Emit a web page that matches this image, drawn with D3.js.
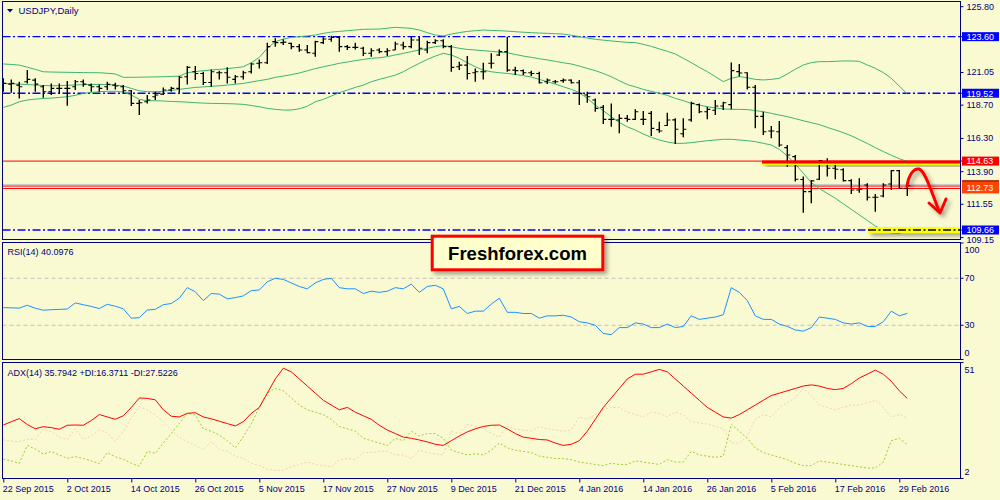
<!DOCTYPE html>
<html><head><meta charset="utf-8">
<script src="https://cdn.jsdelivr.net/npm/d3@7"></script>
<style>
html,body{margin:0;padding:0;background:#fafad2;}
svg{display:block;}
text{font-family:"Liberation Sans",Arial,sans-serif;}
</style></head><body>
<svg id="c" width="1000" height="500"></svg>
<script>
// ---------- DATA ----------
const startDate = "2015-09-22";
const holidays = ["2015-12-25", "2016-01-01"];
const barCount = 114;

const open = [
119.99,120.18,120.11,120.35,120.47,119.99,119.63,119.87,119.87,119.99,
120.35,120.11,119.99,119.99,120.11,119.99,119.70,118.79,118.91,119.27,
119.46,119.75,119.87,120.71,121.07,120.95,120.30,121.00,121.00,120.52,
120.71,121.07,121.68,121.72,123.24,123.17,123.12,122.88,122.64,122.40,
123.17,123.41,123.55,122.88,122.83,122.76,122.40,122.64,122.52,122.64,
123.00,122.88,123.36,122.64,123.17,123.31,122.88,121.43,121.55,121.00,
121.07,121.68,122.28,122.52,121.19,121.15,121.00,120.95,120.35,120.35,
120.43,120.47,120.28,119.39,119.03,118.50,117.64,117.59,117.71,117.64,
117.64,118.07,116.90,117.20,117.60,116.60,117.60,118.70,118.19,118.30,
118.60,118.70,121.08,121.00,119.95,117.85,116.80,116.75,115.60,114.95,
113.30,112.43,113.32,114.60,114.11,114.00,113.22,112.55,112.91,112.02,
112.11,112.98,113.94,112.67];
const high = [
120.60,120.52,120.35,121.19,120.60,120.11,120.23,120.23,120.40,120.47,
120.52,120.23,120.16,120.35,120.28,120.11,119.75,119.03,119.39,119.63,
119.94,119.99,120.76,121.48,121.48,121.07,121.24,121.15,121.39,120.83,
121.15,121.72,121.96,123.17,123.48,123.41,123.17,123.07,123.00,123.31,
123.55,123.67,123.65,123.00,123.17,122.88,122.76,122.76,122.76,123.24,
123.24,123.60,123.60,123.31,123.41,123.41,123.00,121.80,122.20,121.31,
121.72,122.40,122.68,123.60,121.43,121.24,121.15,121.07,120.59,120.47,
120.59,120.52,120.47,119.63,119.15,118.67,118.79,118.00,117.95,118.36,
118.24,118.24,117.47,118.12,117.71,117.71,118.91,118.79,118.55,119.03,
118.91,121.73,121.63,121.01,120.12,118.19,117.16,117.52,115.79,115.07,
113.51,113.27,114.71,114.83,114.59,114.11,113.32,113.39,113.03,112.26,
113.03,113.99,113.99,113.03];
const low = [
119.63,119.56,119.15,120.23,119.63,119.20,119.39,119.51,118.62,119.75,
119.99,119.63,119.63,119.75,119.80,119.51,118.60,117.95,118.79,119.03,
119.39,119.63,119.56,120.16,120.47,120.11,119.99,120.52,120.23,120.23,
120.52,120.95,121.31,121.63,122.88,123.00,122.69,122.52,122.40,122.16,
123.07,123.24,122.52,122.64,122.68,122.20,122.16,122.40,122.20,122.64,
122.68,122.76,122.28,122.40,123.07,122.76,121.07,121.19,120.52,120.35,
120.52,121.31,122.20,121.07,120.83,120.83,120.76,120.23,120.18,120.23,
120.28,120.23,118.67,118.84,118.19,117.30,117.11,116.63,117.47,117.59,
117.23,116.44,116.68,117.16,115.86,116.34,117.47,118.07,117.64,117.95,
118.31,118.36,120.72,119.80,116.99,116.51,116.27,115.67,114.23,113.15,
110.91,111.59,113.27,113.51,113.32,113.15,112.26,112.35,111.78,110.98,
112.02,112.55,112.67,112.11];
const close = [
120.23,120.23,119.99,120.52,120.18,119.63,119.87,119.87,119.87,120.35,
120.18,119.99,119.87,120.16,120.04,119.70,118.79,118.84,119.03,119.39,
119.75,119.87,120.67,121.39,120.95,120.30,121.07,121.00,120.67,120.71,
121.00,121.63,121.72,122.88,123.17,123.21,122.88,122.64,122.45,123.24,
123.43,123.55,122.88,122.83,122.83,122.40,122.59,122.52,122.59,123.07,
122.88,123.36,122.76,123.17,123.31,122.88,121.39,121.55,120.95,121.07,
121.07,121.68,122.52,121.19,121.15,121.00,120.95,120.28,120.47,120.35,
120.47,120.28,119.51,119.27,118.43,117.64,117.64,117.71,117.64,118.19,
117.64,116.99,116.80,117.59,116.92,116.92,118.79,118.19,118.36,118.60,
118.84,121.15,120.98,119.95,117.85,116.75,116.80,115.79,115.07,113.32,
112.43,113.20,114.66,114.11,114.04,113.22,112.55,112.60,112.02,112.02,
112.91,113.94,112.67,112.85];

const bbUpper = [
121.63,121.60,121.55,121.40,121.24,121.07,121.05,121.04,121.03,121.02,
121.01,121.00,121.00,120.96,120.91,120.67,120.67,120.68,120.69,120.70,
120.71,120.73,120.76,121.00,121.08,121.15,121.20,121.24,121.30,121.36,
121.43,121.72,122.11,122.76,123.24,123.43,123.55,123.60,123.65,123.72,
123.84,123.93,123.98,124.03,124.08,124.13,124.14,124.15,124.21,124.27,
124.24,124.20,124.08,123.89,123.72,123.65,123.79,123.89,123.98,124.03,
124.08,124.05,124.03,124.00,123.96,123.92,123.89,123.86,123.84,123.81,
123.79,123.70,123.60,123.50,123.41,123.35,123.29,123.24,123.19,123.17,
123.05,122.90,122.72,122.55,122.35,122.04,121.73,121.39,121.08,120.72,
120.36,120.60,120.72,120.64,120.52,120.48,120.52,120.60,120.91,121.25,
121.56,121.73,121.80,121.80,121.82,121.85,121.85,121.82,121.56,121.32,
121.01,120.60,120.04,119.47];
const bbMiddle = [
120.23,120.20,120.18,120.15,120.11,120.08,120.06,120.07,120.09,120.12,
120.14,120.15,120.16,120.14,120.11,120.04,119.87,119.70,119.63,119.63,
119.66,119.73,119.80,119.87,119.94,119.98,120.02,120.06,120.11,120.17,
120.23,120.33,120.43,120.52,120.67,120.76,120.86,120.98,121.14,121.30,
121.43,121.55,121.68,121.77,121.87,121.96,122.04,122.08,122.16,122.28,
122.40,122.52,122.64,122.76,122.88,122.95,122.88,122.76,122.68,122.64,
122.59,122.54,122.49,122.44,122.32,122.20,122.11,122.01,121.92,121.82,
121.72,121.63,121.48,121.31,121.15,120.95,120.71,120.42,120.15,119.98,
119.80,119.66,119.52,119.37,119.15,118.99,118.79,118.67,118.55,118.46,
118.39,118.36,118.36,118.34,118.27,118.19,118.07,117.95,117.83,117.69,
117.54,117.40,117.26,117.06,116.87,116.68,116.45,116.18,115.90,115.60,
115.32,115.05,114.80,114.60];
const bbLower = [
118.50,118.67,118.91,119.03,119.10,119.15,119.17,119.22,119.27,119.37,
119.51,119.58,119.63,119.66,119.66,119.61,119.39,119.08,118.98,118.98,
118.96,118.93,118.91,118.88,118.84,118.81,118.79,118.78,118.77,118.75,
118.72,118.64,118.55,118.43,118.36,118.31,118.31,118.40,118.58,118.91,
119.08,119.32,119.56,119.75,119.94,120.11,120.35,120.52,120.67,120.83,
121.07,121.39,121.68,121.96,122.20,122.40,122.28,122.04,121.72,121.43,
121.19,121.07,121.00,120.95,120.88,120.79,120.69,120.52,120.35,120.18,
119.99,119.80,119.56,119.15,118.67,118.26,117.83,117.41,117.10,116.87,
116.58,116.34,116.15,116.01,115.91,115.91,115.96,116.03,116.10,116.15,
116.20,116.20,116.15,116.10,116.03,115.91,115.79,115.48,115.00,114.42,
113.75,113.08,112.65,112.30,111.95,111.55,111.15,110.75,110.35,109.95,
109.65,109.45,109.42,109.62];

const rsi = [
45.0,44.8,44.6,47.0,44.5,42.8,43.2,43.5,43.8,49.0,
47.5,46.0,44.2,47.8,46.2,44.0,36.0,36.5,43.0,43.5,
47.5,48.5,53.0,62.0,58.5,51.0,57.0,56.5,52.5,53.5,
55.0,59.5,60,67,70,69,66,63,61,66,
69,70,62,61,61,57,59,58,59,62,
61,65,58,63,64,61,44,46,40,42,
42,48,53,41,41,40,40,36,38,38,
38.5,37,33,32,30,23,22,28,28,32,
31,28,28,31,28,29,38,35,36,37,
39,62,58,51,38,35,35,31,29,26,
25,28,37,36,35,32,31,32,29,29,
33,42,38,40.1];

const adx = [
24.6,26,27.3,24.8,23.0,23.9,23.5,22.8,24.5,24.6,
24.5,26.5,29.0,28.0,27.0,28.5,32.0,36.0,35.8,35.2,
31.0,28.3,28.0,29.5,29.8,28.0,27.2,26.2,25.2,24.2,
26.0,29.5,32,38,44,48.5,47,44,41,38,
35,33,31,32,30,28.5,27,24.5,22.5,21,
19.5,19,18.3,17.5,16.5,16,18,20,21.7,23,
24,24.5,24.6,23,21,19.5,19,18.5,18.3,17,
16,16.5,18,22,27,32,36,40,44,46,
46,47,48,47,44,41,38,35,32,30,
28,27.5,29,31,33,35,37,38,39,40,
41,41.5,41,40,39.5,40,42,44.4,46,47.7,
46,43,39,35.8];
const plusDI = [
10.2,9.5,8.5,16.0,14.5,12.4,13.4,12.0,10.6,11.3,
10.5,9.5,8.3,13.0,11.2,10.2,8.5,7.3,13.5,12.7,
17,21,25.3,29.5,28.8,23,22,20.4,18,15,
19.7,25,32,38,40,39,36,33,31,30,
29,27,24,23,22,19,18,17,16,19,
18,22,20,21,21,19,14,13,12,12.5,
12,14,17,15,14,13.5,13,11.5,11,10.5,
10.5,10,9,8.5,8,7.5,8.5,8,8,9.5,
9,8.5,8,10,9,9,13.5,12,11.5,11,
11.5,25,22,19,15,13,12,11,10,8.5,
7.5,7.5,9.5,9,8.5,8,7.5,7,6.5,6.5,
9,18,19,16.4];
const minusDI = [
18.3,17.8,17.6,18.6,18.6,23.0,21.8,19.5,18.5,23.0,
18.5,20,22.5,21.4,17.6,22,27.4,32.3,31,28.8,
26,22.5,19.5,17.6,16,14.1,17.6,14.4,13.5,11.5,
10.6,8.5,7.5,6,5.5,5.5,7,8,9,8,
7.5,7,10,10.5,10,13,13,13.5,13.5,12,
12,10.5,14,13,12.5,12,22,21,25,24,
23,21,19.5,24,23,22.5,22,24,23,22.5,
22,22.5,28,27,29,31,32,32,30,29,
28,30,29.5,28,30,29,26,25.5,25,24,
23,17,17,20,27,29,28,32,34,36,
40,37,33,32,31,32,33,33,34,35,
32,28,29,27.5];

const priceTicks = [125.80, 121.05, 118.70, 116.30, 113.90, 111.55, 109.15];
const blueLevels = [123.60, 119.52, 109.66];
const resistance = 114.63;
const support = 112.73;
const rsiTicks = [100, 70, 30, 0];
const rsiLevels = [70, 30];
const adxTicks = [51, 2];
const tickEvery = 8;

const titleMain = "USDJPY,Daily";
const titleRsi = "RSI(14) 40.0976";
const titleAdx = "ADX(14) 35.7942 +DI:16.3711 -DI:27.5226";
const logoText = "Freshforex.com";

// ---------- CATEGORIES (trading days) ----------
const parse = d3.timeParse("%Y-%m-%d"), iso = d3.timeFormat("%Y-%m-%d");
const dates = [];
for (let d = parse(startDate); dates.length < barCount; d = d3.timeDay.offset(d, 1)) {
  const wd = d.getDay();
  if (wd !== 0 && wd !== 6 && !holidays.includes(iso(d))) dates.push(d);
}
const fmtDate = d3.timeFormat("%-d %b %Y");

// ---------- LAYOUT ----------
const svg = d3.select("#c");
const L = 2.5, R = 960.5;
const pMain = {t: 1.5, b: 239.5}, pRsi = {t: 242.5, b: 359.5}, pAdx = {t: 362.5, b: 478.5};
const navy = "#000080";

const defs = svg.append("defs");
const sh = defs.append("filter").attr("id","sh").attr("x","-10%").attr("y","-60%").attr("width","130%").attr("height","260%");
sh.append("feDropShadow").attr("dx",3).attr("dy",3).attr("stdDeviation",2).attr("flood-color","#000").attr("flood-opacity",0.35);
[["cMain",pMain],["cRsi",pRsi],["cAdx",pAdx]].forEach(([id,p])=>{
  defs.append("clipPath").attr("id",id).append("rect").attr("x",L).attr("y",p.t).attr("width",R-L).attr("height",p.b-p.t);
});

svg.append("rect").attr("width",1000).attr("height",500).attr("fill","#fafad2");

const idx = d3.range(barCount);
const x = d3.scalePoint().domain(idx).range([3.3, 907.3]);
const y = d3.scaleLinear().domain([108.94, 126.10]).range([240, 2]);
const yR = d3.scaleLinear().domain([0, 100]).range([360.5, 243]);
const yA = d3.scaleLinear().domain([2, 51]).range([478.7, 362.3]);

// ---------- MAIN PANEL ----------
const gM = svg.append("g").attr("clip-path","url(#cMain)");

gM.selectAll("line.blue").data(blueLevels).join("line")
  .attr("x1",L).attr("x2",R).attr("y1",d=>y(d)).attr("y2",d=>y(d))
  .attr("stroke","#0000ff").attr("stroke-width",1.3).attr("stroke-dasharray","8,2.5,2,2.5");

const ys = y(support);
gM.append("line").attr("x1",L).attr("x2",R).attr("y1",ys-3).attr("y2",ys-3).attr("stroke","#c8c8c8").attr("stroke-width",1);
gM.append("rect").attr("x",L).attr("width",R-L).attr("y",ys-1.5).attr("height",3).attr("fill","#ffe6d0");
gM.append("line").attr("x1",L).attr("x2",R).attr("y1",ys-1.4).attr("y2",ys-1.4).attr("stroke","#ff0000").attr("stroke-width",1);
gM.append("line").attr("x1",L).attr("x2",R).attr("y1",ys+1.1).attr("y2",ys+1.1).attr("stroke","#ff0000").attr("stroke-width",1);

const yr = y(resistance);
gM.append("line").attr("x1",L).attr("x2",R).attr("y1",yr).attr("y2",yr).attr("stroke","#ff0000").attr("stroke-width",1);

const bbLine = arr => d3.line().x((d,i)=>x(i)).y(d=>y(d))(arr);
[bbUpper, bbMiddle, bbLower].forEach(a=>{
  gM.append("path").attr("d",bbLine(a)).attr("fill","none").attr("stroke","#3cb371").attr("stroke-width",1);
});

gM.selectAll("line.hl").data(idx).join("line")
  .attr("x1",i=>x(i)).attr("x2",i=>x(i)).attr("y1",i=>y(high[i])).attr("y2",i=>y(low[i]))
  .attr("stroke","#000").attr("stroke-width",1.4);
gM.selectAll("line.op").data(idx).join("line")
  .attr("x1",i=>x(i)-3).attr("x2",i=>x(i)).attr("y1",i=>y(open[i])).attr("y2",i=>y(open[i]))
  .attr("stroke","#000").attr("stroke-width",1.1);
gM.selectAll("line.cl").data(idx).join("line")
  .attr("x1",i=>x(i)).attr("x2",i=>x(i)+3).attr("y1",i=>y(close[i])).attr("y2",i=>y(close[i]))
  .attr("stroke","#000").attr("stroke-width",1.1);

const gRes = gM.append("g").attr("filter","url(#sh)");
gRes.append("line").attr("x1",762).attr("x2",R).attr("y1",yr+3).attr("y2",yr+3).attr("stroke","#ffff00").attr("stroke-width",1.6);
gRes.append("line").attr("x1",762).attr("x2",R).attr("y1",yr+1).attr("y2",yr+1).attr("stroke","#ff0000").attr("stroke-width",3);

const yl = y(blueLevels[2]);
const gLow = gM.append("g");
gLow.append("rect").attr("x",868).attr("y",yl-3).attr("width",R-868).attr("height",6).attr("fill","#ffff00").attr("filter","url(#sh)");
gLow.append("line").attr("x1",868).attr("x2",R).attr("y1",yl).attr("y2",yl).attr("stroke","#000").attr("stroke-width",1.3).attr("stroke-dasharray","8,2.5,2,2.5");

const gArr = svg.append("g").attr("filter","url(#sh)");
gArr.append("path").attr("d","M907,186 C909,174 914,168 919,169 C925,171 931,190 939,211")
  .attr("fill","none").attr("stroke","#ff0000").attr("stroke-width",3).attr("stroke-linecap","round");
gArr.append("path").attr("d","M929,203 L940,213 L946,199")
  .attr("fill","none").attr("stroke","#ff0000").attr("stroke-width",3).attr("stroke-linecap","round").attr("stroke-linejoin","round");

// ---------- RSI PANEL ----------
const gR = svg.append("g").attr("clip-path","url(#cRsi)");
gR.selectAll("line.lv").data(rsiLevels).join("line")
  .attr("x1",L).attr("x2",R).attr("y1",d=>yR(d)).attr("y2",d=>yR(d))
  .attr("stroke","#c0c0c0").attr("stroke-width",1).attr("stroke-dasharray","4,3");
gR.append("path").attr("d",d3.line().x((d,i)=>x(i)).y(d=>yR(d))(rsi))
  .attr("fill","none").attr("stroke","#1e90ff").attr("stroke-width",1);

// ---------- ADX PANEL ----------
const gA = svg.append("g").attr("clip-path","url(#cAdx)");
const aLine = a => d3.line().x((d,i)=>x(i)).y(d=>yA(d))(a);
gA.append("path").attr("d",aLine(minusDI)).attr("fill","none").attr("stroke","#f6cdb4").attr("stroke-width",1).attr("stroke-dasharray","2,2");
gA.append("path").attr("d",aLine(plusDI)).attr("fill","none").attr("stroke","#9acd32").attr("stroke-width",1).attr("stroke-dasharray","2,2");
gA.append("path").attr("d",aLine(adx)).attr("fill","none").attr("stroke","#ff0000").attr("stroke-width",1);

// ---------- FRAMES ----------
[pMain,pRsi,pAdx].forEach(p=>{
  svg.append("rect").attr("x",L).attr("y",p.t).attr("width",R-L).attr("height",p.b-p.t)
    .attr("fill","none").attr("stroke",navy).attr("stroke-width",1);
});

// ---------- AXES ----------
const axMain = svg.append("g").attr("transform",`translate(${R},0)`)
  .call(d3.axisRight(y).tickValues(priceTicks).tickSize(3).tickPadding(3).tickFormat(d3.format(".2f")));
axMain.select(".domain").remove();
axMain.selectAll("line").attr("stroke",navy);
axMain.selectAll("text").attr("fill",navy).attr("font-size",9).attr("font-family","Liberation Sans, Arial, sans-serif")
  .attr("dy", d => d === 109.15 ? "0.6em" : "0.32em");

function levelBox(v, fill){
  const yy = y(v);
  svg.append("line").attr("x1",R).attr("x2",R+3).attr("y1",yy).attr("y2",yy).attr("stroke",navy);
  svg.append("rect").attr("x",962).attr("y",yy-4.5).attr("width",37).attr("height",9).attr("fill",fill);
  svg.append("text").attr("x",966.5).attr("y",yy+3.3).attr("fill","#fff").attr("font-size",9).text(v.toFixed(2));
}
blueLevels.forEach(v=>levelBox(v,"#0000ff"));
levelBox(resistance,"#ff0000");
{
  const yy = y(support);
  svg.append("rect").attr("x",962).attr("y",yy-7).attr("width",37).attr("height",13).attr("fill","#ff4500");
  svg.append("line").attr("x1",962).attr("x2",999).attr("y1",yy-6.5).attr("y2",yy-6.5).attr("stroke","#800000").attr("stroke-width",1);
  svg.append("text").attr("x",966.5).attr("y",yy+3.3).attr("fill","#fff").attr("font-size",9).text(support.toFixed(2));
}

function sideTicks(scale, ticks, p){
  ticks.forEach(v=>{
    const yy = scale(v);
    const ty = Math.max(p.t+6.8, Math.min(p.b-6.3, yy));
    const tk = Math.max(p.t,Math.min(p.b,yy));
    svg.append("line").attr("x1",R).attr("x2",R+3).attr("y1",tk).attr("y2",tk).attr("stroke",navy);
    svg.append("text").attr("x",964.5).attr("y",ty+3.2).attr("fill",navy).attr("font-size",9).text(v);
  });
}
sideTicks(yR, rsiTicks, pRsi);
sideTicks(yA, adxTicks, pAdx);

const tickIdx = idx.filter(i=>i % tickEvery === 0);
const axX = svg.append("g").attr("transform",`translate(0,${pAdx.b})`)
  .call(d3.axisBottom(x).tickValues(tickIdx).tickSize(4).tickPadding(0).tickFormat(i=>fmtDate(dates[i])));
axX.select(".domain").remove();
axX.selectAll("line").attr("stroke",navy);
axX.selectAll("text").attr("fill",navy).attr("font-size",9).attr("font-family","Liberation Sans, Arial, sans-serif")
  .attr("text-anchor","start").attr("dx",-1).attr("dy",0).attr("y",13.5);

// ---------- TITLES ----------
svg.append("path").attr("d","M7,9 L13,9 L10,12.5 Z").attr("fill",navy);
svg.append("text").attr("x",18.5).attr("y",14).attr("fill",navy).attr("font-size",9.5).text(titleMain);
svg.append("text").attr("x",7.5).attr("y",255).attr("fill",navy).attr("font-size",9).text(titleRsi);
svg.append("text").attr("x",7.5).attr("y",375.5).attr("fill",navy).attr("font-size",9).text(titleAdx);

// ---------- LOGO ----------
svg.append("rect").attr("x",432.2).attr("y",236.2).attr("width",170.6).attr("height",33.6)
  .attr("fill","#ffffcc").attr("stroke","#ff0000").attr("stroke-width",3).attr("filter","url(#sh)");
svg.append("text").attr("x",517.5).attr("y",259.7).attr("text-anchor","middle")
  .attr("font-size",18.5).attr("font-weight","bold").attr("fill","#000").text(logoText);
</script>
</body></html>
